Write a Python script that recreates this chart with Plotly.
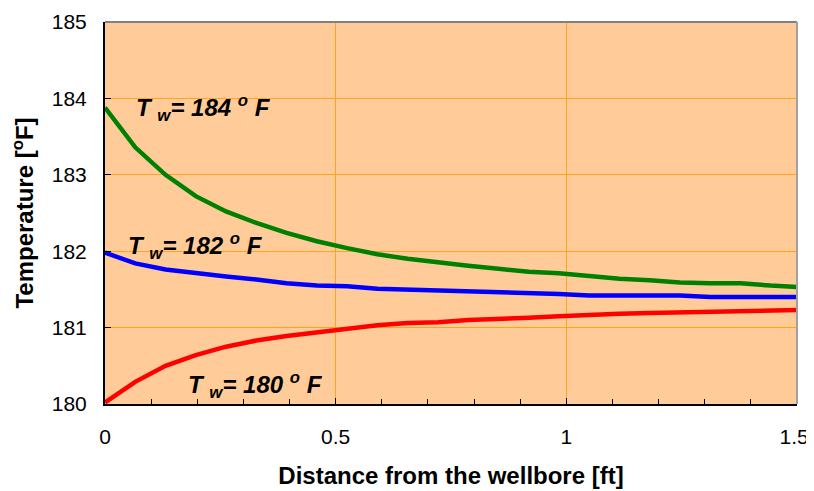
import plotly.graph_objects as go

x_ft = [i * 0.0656 for i in range(24)]
t_184 = [183.88, 183.36, 183.00, 182.72, 182.52, 182.37, 182.24, 182.13, 182.04, 181.96,
         181.90, 181.85, 181.81, 181.77, 181.73, 181.71, 181.67, 181.64, 181.62, 181.59,
         181.58, 181.58, 181.55, 181.53]
t_182 = [181.98, 181.84, 181.76, 181.71, 181.67, 181.63, 181.58, 181.55, 181.54, 181.51,
         181.50, 181.49, 181.47, 181.46, 181.45, 181.44, 181.42, 181.42, 181.42, 181.42,
         181.40, 181.40, 181.40, 181.40]
t_180 = [180.02, 180.29, 180.50, 180.64, 180.75, 180.83, 180.89, 180.94, 180.99, 181.03,
         181.06, 181.07, 181.10, 181.11, 181.13, 181.15, 181.17, 181.18, 181.19, 181.20,
         181.20, 181.22, 181.22, 181.23]
x_ticks = [0, 0.5, 1, 1.5]
x_ticktext = ["0", "0.5", "1", "1.5\u00a0"]

labels = [("184", 0.214, 183.88), ("182", 0.196, 182.07), ("180", 0.326, 180.25)]

fig = go.Figure()
for ys, col in [(t_184, "#008000"), (t_182, "#0000FF"), (t_180, "#FF0000")]:
    fig.add_trace(go.Scatter(x=x_ft, y=ys, mode="lines", line=dict(color=col, width=4.5),
                             showlegend=False, cliponaxis=True))

for t, xa, ya in labels:
    fig.add_annotation(x=xa, y=ya, xref="x", yref="y", showarrow=False,
                       text=f"<b><i>T <sub>w</sub>= {t} <sup>o</sup> F</i></b>",
                       font=dict(family="Liberation Sans, Arial", size=24, color="black"))

# page body has an 8px margin; the figure is sized to fill the 814x491 window from there
fig.update_layout(
    width=806, height=483,
    margin=dict(l=97, r=17, t=14, b=87),
    paper_bgcolor="white", plot_bgcolor="#FFCC99",
    font=dict(family="Liberation Sans, Arial", size=21, color="black"),
    xaxis=dict(range=[0, 1.5], tickvals=x_ticks, ticktext=x_ticktext,
               showgrid=True, gridcolor="#FFA41C", gridwidth=1,
               showline=True, linecolor="black", linewidth=2,
               ticks="inside", ticklen=6, tickcolor="black", ticklabelstandoff=13,
               ticklabeloverflow="allow",
               minor=dict(dtick=0.1, ticks="inside", ticklen=5, tickcolor="black", showgrid=False),
               zeroline=False, automargin=False,
               title=dict(text="<b>Distance from the wellbore [ft]</b>", font=dict(size=24), standoff=20)),
    yaxis=dict(range=[180, 185], dtick=1,
               showgrid=True, gridcolor="#FFA41C", gridwidth=1,
               showline=True, linecolor="black", linewidth=2,
               ticks="inside", ticklen=6, tickcolor="black", ticklabelstandoff=12,
               zeroline=False, automargin=False,
               title=dict(text="<b>Temperature [<sup>o</sup>F]</b>", font=dict(size=24), standoff=12)),
)
fig.add_shape(type="line", xref="paper", yref="paper", x0=0, x1=1, y0=1, y1=1,
              line=dict(color="#808080", width=2))
fig.add_shape(type="line", xref="paper", yref="paper", x0=1, x1=1, y0=0, y1=1,
              line=dict(color="#A0A0A0", width=2))

fig.write_html("out.html")
